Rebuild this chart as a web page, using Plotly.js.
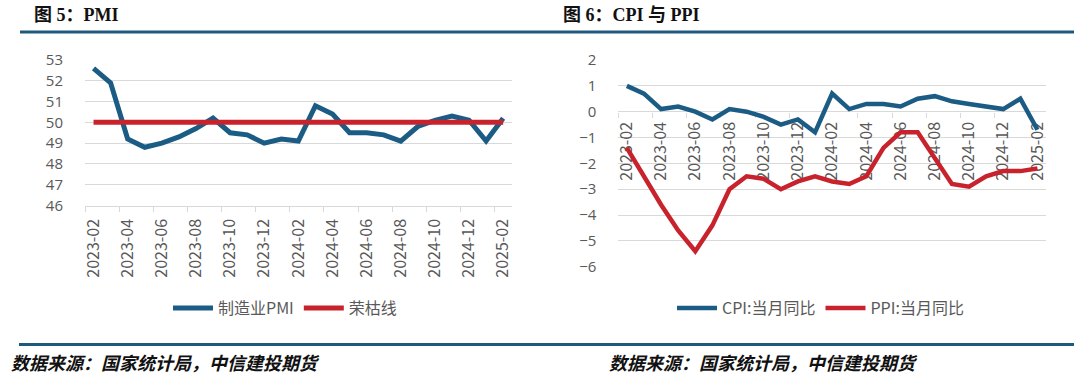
<!DOCTYPE html>
<html>
<head>
<meta charset="utf-8">
<script src="https://cdn.plot.ly/plotly-3.0.1.min.js"></script>
<style>
html,body{margin:0;padding:0;background:#fff;}
#chart{width:1080px;height:376px;}
</style>
</head>
<body>
<div id="chart"></div>
<script>
// ---- data ----
const months = ['2023-02','2023-03','2023-04','2023-05','2023-06','2023-07','2023-08','2023-09','2023-10','2023-11','2023-12',
  '2024-01','2024-02','2024-03','2024-04','2024-05','2024-06','2024-07','2024-08','2024-09','2024-10','2024-11','2024-12',
  '2025-01','2025-02'];
const pmi = [52.6,51.9,49.2,48.8,49.0,49.3,49.7,50.2,49.5,49.4,49.0,
  49.2,49.1,50.8,50.4,49.5,49.5,49.4,49.1,49.8,50.1,50.3,50.1,
  49.1,50.2];
const boomBust = [50,50,50,50,50,50,50,50,50,50,50,50,50,50,50,50,50,50,50,50,50,50,50,50,50];
const cpi = [1.0,0.7,0.1,0.2,0.0,-0.3,0.1,0.0,-0.2,-0.5,-0.3,
  -0.8,0.7,0.1,0.3,0.3,0.2,0.5,0.6,0.4,0.3,0.2,0.1,
  0.5,-0.7];
const ppi = [-1.4,-2.5,-3.6,-4.6,-5.4,-4.4,-3.0,-2.5,-2.6,-3.0,-2.7,
  -2.5,-2.7,-2.8,-2.5,-1.4,-0.8,-0.8,-1.8,-2.8,-2.9,-2.5,-2.3,
  -2.3,-2.2];
const names = {pmi:'制造业PMI', boom:'荣枯线', cpi:'CPI:当月同比', ppi:'PPI:当月同比'};
const titles = ['图 5：PMI', '图 6：CPI 与 PPI'];
const source = '数据来源：国家统计局，中信建投期货';
const leftY = [46, 53];
const rightY = [-6, 2];

// ---- layout helpers ----
const W = 1080, H = 376;
const px = v => v / W;
const py = v => (H - v) / H;
const BLUE = '#1B5C85', RED = '#C8232D', GRID = '#D9D9D9', TXT = '#595959', RULE = '#1F5A7C';
const FONT = 'Noto Sans CJK SC, Noto Sans, sans-serif';

const lDom = {x:[px(85), px(511.7)], y:[py(205.5), py(60)]};
const rDom = {x:[px(618.3), px(1046)], y:[py(266.7), py(60)]};
const rZeroPos = rDom.y[0] + (0 - rightY[0]) / (rightY[1] - rightY[0]) * (rDom.y[1] - rDom.y[0]);

const tickFont = {family: FONT, size: 16, color: TXT};
const yTickFont = {family: 'Open Sans, Noto Sans, sans-serif', size: 15, color: TXT};

const traces = [
  {x: months, y: pmi, name: names.pmi, type: 'scatter', mode: 'lines', line: {color: BLUE, width: 5}, xaxis: 'x', yaxis: 'y', legend: 'legend'},
  {x: months, y: boomBust, name: names.boom, type: 'scatter', mode: 'lines', line: {color: RED, width: 5}, xaxis: 'x', yaxis: 'y', legend: 'legend'},
  {x: months, y: cpi, name: names.cpi, type: 'scatter', mode: 'lines', line: {color: BLUE, width: 4.5}, xaxis: 'x2', yaxis: 'y2', legend: 'legend2'},
  {x: months, y: ppi, name: names.ppi, type: 'scatter', mode: 'lines', line: {color: RED, width: 4.5}, xaxis: 'x2', yaxis: 'y2', legend: 'legend2'}
];

const xCommon = {
  type: 'category', range: [-0.5, months.length - 0.5], dtick: 2, tick0: 0,
  tickangle: -90, tickfont: tickFont, showgrid: false, zeroline: false,
  ticks: 'outside', tickson: 'boundaries', ticklen: 5, tickcolor: GRID, tickwidth: 1,
  ticklabelstandoff: 6,
  showline: true, linecolor: GRID, linewidth: 1, fixedrange: true
};
const yCommon = {
  dtick: 1, tickfont: yTickFont, showgrid: true, gridcolor: GRID, gridwidth: 1,
  zeroline: false, showline: false, ticks: '', ticklabelstandoff: 21, fixedrange: true
};

const legendFont = {family: FONT, size: 16, color: TXT};

const layout = {
  width: W, height: H,
  margin: {l: 0, r: 0, t: 0, b: 0},
  paper_bgcolor: '#fff', plot_bgcolor: 'rgba(0,0,0,0)',
  showlegend: true,
  xaxis: Object.assign({}, xCommon, {domain: lDom.x, anchor: 'y'}),
  yaxis: Object.assign({}, yCommon, {domain: lDom.y, range: leftY, anchor: 'x'}),
  xaxis2: Object.assign({}, xCommon, {domain: rDom.x, anchor: 'free', position: rZeroPos, layer: 'below traces', showline: false}),
  yaxis2: Object.assign({}, yCommon, {domain: rDom.y, range: rightY, anchor: 'x2'}),
  legend: {orientation: 'h', x: px(168), y: py(308), xanchor: 'left', yanchor: 'middle',
    font: legendFont, bgcolor: 'rgba(0,0,0,0)', itemwidth: 40, tracegroupgap: 0},
  legend2: {orientation: 'h', x: px(672), y: py(308), xanchor: 'left', yanchor: 'middle',
    font: legendFont, bgcolor: 'rgba(0,0,0,0)', itemwidth: 40, tracegroupgap: 0},
  shapes: [
    {type: 'line', xref: 'paper', yref: 'paper', x0: px(20), x1: px(1074), y0: py(32), y1: py(32), line: {color: RULE, width: 3}},
    {type: 'line', xref: 'paper', yref: 'paper', x0: px(19), x1: px(1074), y0: py(344.5), y1: py(344.5), line: {color: RULE, width: 3}}
  ],
  annotations: [
    {text: '<b>' + titles[0] + '</b>', xref: 'paper', yref: 'paper', x: px(32), y: py(15), xanchor: 'left', yanchor: 'middle', showarrow: false,
      font: {family: 'Liberation Serif, Noto Sans CJK SC, serif', size: 18, color: '#111'}},
    {text: '<b>' + titles[1] + '</b>', xref: 'paper', yref: 'paper', x: px(561), y: py(15), xanchor: 'left', yanchor: 'middle', showarrow: false,
      font: {family: 'Liberation Serif, Noto Sans CJK SC, serif', size: 18, color: '#111'}},
    {text: '<i><b>' + source + '</b></i>', xref: 'paper', yref: 'paper', x: px(9), y: py(362), xanchor: 'left', yanchor: 'middle', showarrow: false,
      font: {family: FONT, size: 18, color: '#111'}},
    {text: '<i><b>' + source + '</b></i>', xref: 'paper', yref: 'paper', x: px(607), y: py(362), xanchor: 'left', yanchor: 'middle', showarrow: false,
      font: {family: FONT, size: 18, color: '#111'}}
  ]
};

Plotly.newPlot('chart', traces, layout, {displayModeBar: false, staticPlot: true});
</script>
</body>
</html>
